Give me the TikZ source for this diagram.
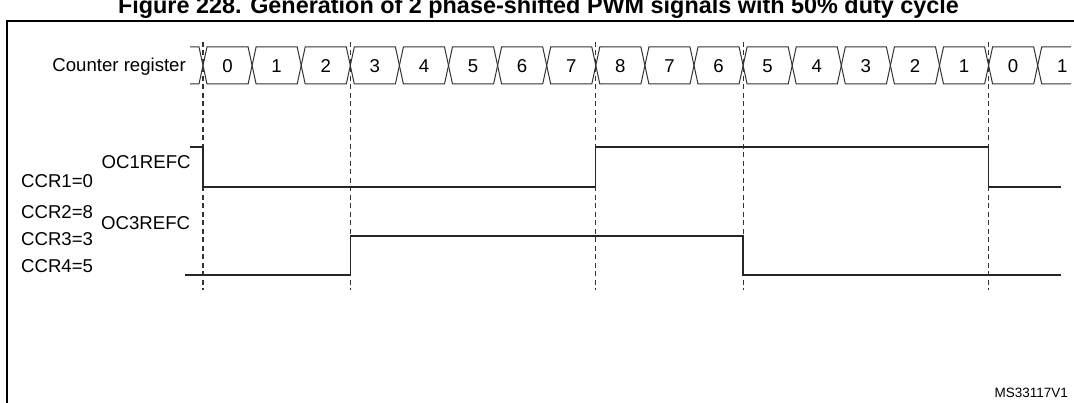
\documentclass[tikz,border=0pt]{standalone}
\usepackage{fontspec}
\setmainfont{Liberation Sans}
\tikzset{
  lbl/.style={font=\fontsize{18.6}{20}\selectfont, inner sep=0pt},
  ttl/.style={font=\fontsize{23.4}{26}\selectfont\bfseries, inner sep=0pt},
  tag/.style={font=\fontsize{13.5}{15}\selectfont, inner sep=0pt},
  wave/.style={line width=1.3pt, black!85},
  cellline/.style={line width=1pt, black!80, line join=miter},
  vdash/.style={dash pattern=on 5pt off 3.5pt, line width=1.1pt, black!80},
  frame/.style={line width=2.6pt, black}
}
\begin{document}
\begin{tikzpicture}[x=1pt,y=-1pt]
\clip (0,0) rectangle (1074,403);
\useasboundingbox (0,0) rectangle (1074,403);
% title (cut at the top as in the reference)
\node[ttl, anchor=base] (title) at (538.5,13.5) {Figure 228. Generation of 2 phase-shifted PWM signals with 50\% duty cycle};
% frame
\draw[frame] (7,405) -- (7,21) -- (1076,21);
% counter register cells
\def\xo{203}\def\pw{49.1}\def\hw{4}
\def\ct{47}\def\cb{84}\def\cm{65.5}
\draw[cellline] (190,\ct) -- ({\xo-\hw},\ct) -- (\xo,\cm) -- ({\xo-\hw},\cb) -- (190,\cb);
\foreach \v [count=\i from 0] in {0,1,2,3,4,5,6,7,8,7,6,5,4,3,2,1,0} {
  \pgfmathsetmacro{\xa}{\xo+\pw*\i}
  \pgfmathsetmacro{\xb}{\xo+\pw*(\i+1)}
  \draw[cellline] (\xa,\cm) -- ({\xa+\hw},\ct) -- ({\xb-\hw},\ct) -- (\xb,\cm) -- ({\xb-\hw},\cb) -- ({\xa+\hw},\cb) -- cycle;
  \node[lbl, anchor=base] (c\i) at ({(\xa+\xb)/2},72.2) {\v};
}
\pgfmathsetmacro{\xl}{\xo+\pw*17}
\draw[cellline] (1071,\ct) -- ({\xl+\hw},\ct) -- (\xl,\cm) -- ({\xl+\hw},\cb) -- (1071,\cb);
\node[lbl, anchor=base] (c17) at ({\xl+\pw/2},72.2) {1};
\node[lbl, anchor=base east] (cnt) at (186,72) {Counter register};
% dashed markers
\foreach \k in {0,3,8,11,16} {
  \draw[vdash] ({\xo+\pw*\k},42) -- ({\xo+\pw*\k},290);
}
% waveforms
\coordinate (e0) at (\xo,0);
\coordinate (e3) at ({\xo+\pw*3},0);
\coordinate (e8) at ({\xo+\pw*8},0);
\coordinate (e11) at ({\xo+\pw*11},0);
\coordinate (e16) at ({\xo+\pw*16},0);
\draw[wave] (190,147) -- (e0 |- 0,147) -- (e0 |- 0,187) -- (e8 |- 0,187) -- (e8 |- 0,147) -- (e16 |- 0,147) -- (e16 |- 0,187) -- (1061,187);
\draw[wave] (185,275) -- (e3 |- 0,275) -- (e3 |- 0,236) -- (e11 |- 0,236) -- (e11 |- 0,275) -- (1061,275);
% labels
\node[lbl, anchor=base west] (oc1) at (101.5,169) {OC1REFC};
\node[lbl, anchor=base west] (oc3) at (101,230) {OC3REFC};
\node[lbl, anchor=base west] (ccr1) at (21,187.7) {CCR1=0};
\node[lbl, anchor=base west] (ccr2) at (21,218.4) {CCR2=8};
\node[lbl, anchor=base west] (ccr3) at (21,245.7) {CCR3=3};
\node[lbl, anchor=base west] (ccr4) at (21,272.4) {CCR4=5};
\node[tag, anchor=base east] (ms) at (1068,397.5) {MS33117V1};
\end{tikzpicture}
\end{document}
